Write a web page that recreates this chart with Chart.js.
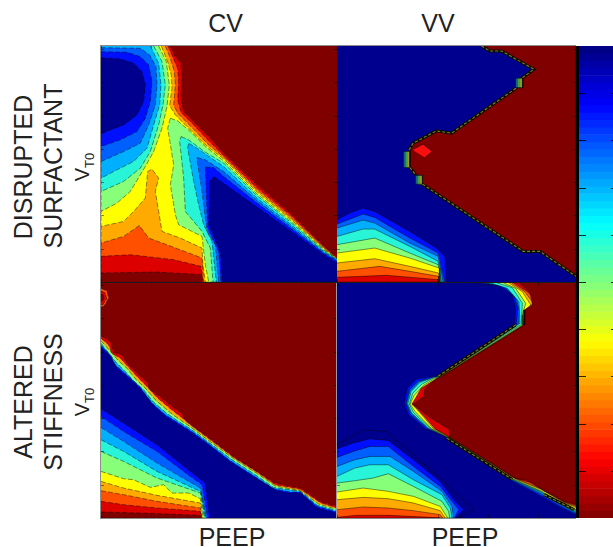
<!DOCTYPE html>
<html>
<head>
<meta charset="utf-8">
<title>CV and VV contour maps</title>
<script src="https://cdn.jsdelivr.net/npm/chart.js@4/dist/chart.umd.min.js"></script>
<style>
  html, body { margin: 0; padding: 0; background: #fff; overflow: hidden; }
  #page { position: relative; width: 613px; height: 547px; overflow: hidden; font-family: 'Liberation Sans', Arial, sans-serif; color: #222; }
  canvas { position: absolute; filter: blur(0.45px); }
  .label { position: absolute; font-size: 25px; line-height: 1; white-space: nowrap; transform: translate(-50%, -50%); }
  .side { transform: translate(-50%, -50%) rotate(-90deg); }
  .vt { font-size: 20px; }
  .vt sub { font-size: 13px; line-height: 0; }
  .rule { position: absolute; }
</style>
</head>
<body>
<div id="page">
  <canvas id="cvSurfactant" width="236" height="236" style="left:101px;top:46px"></canvas>
  <canvas id="vvSurfactant" width="239" height="236" style="left:337px;top:46px"></canvas>
  <canvas id="cvStiffness" width="236" height="235" style="left:101px;top:283px"></canvas>
  <canvas id="vvStiffness" width="239" height="235" style="left:337px;top:283px"></canvas>
  <canvas id="colorbar" width="36" height="472" style="left:577px;top:46px"></canvas>

  <div class="rule" style="left:100px;top:45px;width:476px;height:1px;background:#8c8c8c"></div>
  <div class="rule" style="left:100px;top:45px;width:1px;height:474px;background:#8c8c8c"></div>
  <div class="rule" style="left:100px;top:518px;width:476px;height:1px;background:#8c8c8c"></div>
  <div class="rule" style="left:336px;top:283px;width:1px;height:235px;background:#9a9a9a"></div>
  <div class="rule" style="left:101px;top:282px;width:475px;height:1px;background:#1a1a1a"></div>
  <div class="rule" style="left:576px;top:46px;width:3px;height:472px;background:#000"></div>

  <div class="label" style="left:225.5px;top:23px">CV</div>
  <div class="label" style="left:438px;top:23px">VV</div>
  <div class="label" style="left:232px;top:537px">PEEP</div>
  <div class="label" style="left:465px;top:537px">PEEP</div>
  <div class="label side" style="left:22.5px;top:167px">DISRUPTED</div>
  <div class="label side" style="left:52.5px;top:166px">SURFACTANT</div>
  <div class="label side vt" style="left:82px;top:167px">V<sub>T0</sub></div>
  <div class="label side" style="left:22.5px;top:402px">ALTERED</div>
  <div class="label side" style="left:52.5px;top:402px">STIFFNESS</div>
  <div class="label side vt" style="left:82px;top:402px">V<sub>T0</sub></div>
</div>

<script>
// contour fill colours, lowest band to highest
// last four: the muddy teal/green/olive steps on the VV edge and the bright red spot
const bandColors = ['#00008f', '#0010ff', '#0060ff', '#00b0ff', '#28f5d8', '#88ff78', '#ffff00', '#ffaa00', '#ff5000', '#dc0000', '#800000', '#0f6a78', '#4c9a48', '#9a9a1e', '#f81010'];

// every contour is [band, [[PEEP, VT0], ...]], painted in list order
const cvSurfactantContours = [
  [9, [[20.8,70.9],[22,68.2],[24,65.7],[24.3,61.2],[24,55.2],[24.8,51.2],[28.8,47.2],[32.8,43.2],[36.8,38.7],[46.8,29.2],[56.8,20.7],[66.8,11],[70.8,7.4],[70.8,0],[30.3,0],[30.3,2.2],[16.8,3],[0,2.7],[0,70.9]]],
  [8, [[20.1,70.9],[21.5,67.7],[23,64.2],[23.3,60.2],[23,54.7],[24,51],[28,47],[32.3,42.4],[36.8,38],[46.8,28.3],[56.8,20.1],[66.8,10.7],[70.8,7.2],[70.8,0],[30.6,0],[30,4.7],[21.8,6.7],[8.8,8.2],[0,7.7],[0,70.9]]],
  [7, [[19.3,70.9],[20.8,67.2],[22,63.2],[22.3,59.2],[21.8,53.2],[23,50.7],[27.3,46.4],[31.8,41.7],[36.8,37.5],[46.8,27.7],[56.8,19.5],[66.8,10.4],[70.8,7.1],[70.8,0],[30.8,0],[30.3,7.2],[19.8,11.2],[14.3,13.2],[11.5,17],[6.8,13.7],[0,11.7],[0,70.9]]],
  [6, [[18.1,70.9],[20,66.2],[21.1,62.2],[21.3,58.2],[20.6,53],[22.3,50.2],[26.6,45.9],[31.3,41.2],[36.8,37],[46.8,27.1],[56.8,19],[66.8,10.1],[70.8,7],[70.8,0],[31.3,0],[30.6,5.2],[30.3,10.2],[23.8,13.2],[18.3,15.2],[17.3,21.2],[16.3,27.2],[17.3,31.2],[15.3,33.9],[14,33.2],[13.3,25.2],[9.8,21.2],[6.8,18.2],[0,16.7],[0,70.9]]],
  [5, [[17.3,70.9],[19.6,66.2],[20.5,59.2],[19.8,52.7],[18.3,46.2],[15.8,39.2],[13.3,34.7],[8.8,27.2],[4.8,23.7],[0,21.2],[0,70.9]]],
  [5, [[20.8,49.2],[23,48.4],[26.8,45.2],[31.3,40.7],[36.8,36.4],[46.8,26.5],[56.8,18.5],[66.8,9.8],[70.8,7],[70.8,0],[32.3,0],[31.3,5.2],[30.3,13.7],[23.3,17.2],[22.3,20.2],[20.8,29.2],[21.8,35.2],[20,46.2],[20.8,49.2]]],
  [4, [[15.8,70.9],[18.3,66.2],[19.3,59.2],[18.6,53.2],[17.3,47.2],[14.8,39.2],[11.8,34.2],[6.8,30.2],[0,27.2],[0,70.9]]],
  [4, [[24,43.7],[26.3,42.7],[31.3,39],[36.8,35.7],[46.8,25.9],[56.8,18],[66.8,9.5],[70.8,6.9],[70.8,0],[33.6,0],[32.8,10.2],[30.3,15.2],[25.3,21.2],[24.8,31.2],[23.6,42.2],[24,43.7]]],
  [3, [[14.8,70.9],[17.3,65.7],[18,59.2],[17.6,53.2],[15.8,47.2],[13.8,40.2],[9.8,36.2],[4.8,33.7],[0,31.2],[0,70.9]]],
  [3, [[26.3,41.7],[28.8,40.2],[32.8,37.4],[36.8,34.7],[46.8,25.2],[56.8,17.4],[66.8,9.2],[70.8,6.7],[70.8,0],[34.6,0],[33.3,12.2],[30.8,17.2],[29.3,23.2],[27.8,30.2],[26,40.2],[26.3,41.7]]],
  [2, [[0,70.4],[11.8,70.2],[14.6,68.2],[16.5,64.7],[16.8,59.2],[16.3,53.2],[14.3,47.2],[11.8,41.7],[6.8,39.2],[0,36.2],[0,70.4]]],
  [2, [[28.8,37.4],[31.3,36.7],[36.8,33.2],[46.8,24.5],[56.8,16.8],[66.8,8.9],[70.8,6.5],[70.8,0],[35.3,0],[34.3,11.2],[31.8,15.2],[30.3,27.2],[28.8,36.7],[28.8,37.4]]],
  [1, [[0,69.2],[7.8,69],[11.8,67.7],[14.3,65.2],[15.3,60.2],[14.8,54.2],[13.3,49.2],[10.8,45.2],[5.8,42.7],[0,40.7],[0,69.2]]],
  [1, [[31.3,34.5],[33.8,34.4],[36.8,31.7],[46.8,23.7],[56.8,16.2],[66.8,8.6],[70.8,6.2],[70.8,0],[36,0],[35.3,9.2],[32,16.2],[31.3,34.2],[31.3,34.5]]],
  [0, [[0,67.4],[5.8,67],[9.8,65.7],[12.3,63.2],[13.3,59.2],[12.8,54.2],[10.8,50.2],[6.8,47.2],[2.8,45.7],[0,44.5],[0,67.4]]],
  [0, [[33.8,31.7],[36.8,29.7],[46.8,22.5],[56.8,15.4],[66.8,8.2],[70.8,5.7],[70.8,0],[36.4,0],[35.8,9.2],[32.3,17.2],[32.6,30.2],[33.8,31.7]]]
];

const vvSurfactantContours = [
  [1, [[0,18.7],[3.8,20.7],[7.8,22.2],[11.3,21.2],[21.8,15.2],[29.8,10.2],[32.3,7.7],[32.8,0],[0,0]]],
  [2, [[0,17.4],[7.8,20.4],[11.3,19.4],[21.8,13.2],[30.3,8.7],[32.3,0],[0,0]]],
  [3, [[0,16.2],[7.8,18.6],[11.3,17.7],[21.8,11.7],[30.3,7.7],[31.8,0],[0,0]]],
  [4, [[0,13.7],[7.8,15.9],[11.3,15.9],[21.8,10.7],[30.3,6.2],[31.3,0],[0,0]]],
  [5, [[0,11.2],[11.3,13.2],[21.8,8.7],[30.3,5.2],[31.1,0],[0,0]]],
  [6, [[0,8.7],[11.3,10.2],[21.8,7.2],[30.6,4.2],[30.8,0],[0,0]]],
  [7, [[0,5.7],[11.3,7],[21.8,4.7],[30.4,2.7],[30.6,0],[0,0]]],
  [8, [[0,3.2],[12.8,4.7],[21.8,3.2],[30.4,1.7],[30.5,0],[0,0]]],
  [9, [[0,1.4],[14.8,2],[30.4,0.7],[30.4,0],[0,0]]],
  [10, [[43.3,70.9],[45.8,69.4],[49.3,69.4],[59,63.9],[55.6,61.4],[55.6,58.4],[53.6,58.2],[34.3,44.7],[29.8,45.4],[22.8,41.7],[21.6,39.7],[21.8,34.4],[23.6,32.2],[25.6,32],[25.6,29.4],[55.8,9.2],[60.8,9.2],[71.6,1.7],[71.6,70.9]]],
  [14, [[22.6,39.7],[25.8,41.4],[28.5,39.2],[26.3,37.4]]],
  [11, [[53.6,61.2],[55.6,61.2],[55.6,58.4],[53.6,58.4]]],
  [12, [[54.2,61.2],[55.6,61.2],[55.6,58.4],[54.2,58.4]]],
  [13, [[54.9,61.2],[55.6,61.2],[55.6,58.4],[54.9,58.4]]],
  [11, [[20,39.2],[21.8,39.2],[21.8,34.4],[20,34.4]]],
  [12, [[20.6,39.2],[21.8,39.2],[21.8,34.4],[20.6,34.4]]],
  [13, [[21.2,39.2],[21.8,39.2],[21.8,34.4],[21.2,34.4]]],
  [11, [[23.6,32],[25.6,32],[25.6,29.4],[23.6,29.4]]],
  [12, [[24.2,32],[25.6,32],[25.6,29.4],[24.2,29.4]]],
  [13, [[24.9,32],[25.6,32],[25.6,29.4],[24.9,29.4]]]
];
const vvSurfactantRidges = [
  [[43.3,70.9],[45.8,69.4],[49.3,69.4],[59,63.9],[55.6,61.4]],
  [[53.6,58.2],[34.3,44.7],[29.8,45.4],[22.8,41.7],[21.6,39.7]],
  [[21.8,34.4],[23.6,32.2]],
  [[25.6,29.4],[55.8,9.2],[60.8,9.2],[71.6,1.7]]
];

const cvStiffnessContours = [
  [8, [[0,69],[1.8,68.2],[2.3,66],[0.8,63.5],[0,63.5]]],
  [9, [[0,68.2],[1.3,67.6],[1.7,65.8],[0.5,64],[0,64]]],
  [10, [[0,67.2],[0.7,67],[1,65.8],[0,65]]],
  [9, [[0,54.8],[2.8,53],[3.8,49.8],[6.3,49],[7.8,46.5],[11.3,43],[14.3,40.5],[14.3,38.5],[17.3,36.8],[21.3,33.5],[24.3,31.5],[25.8,28],[31.3,25],[39.8,18.5],[46.8,14],[52.3,10.5],[59.8,9],[65.8,5],[70.8,3.5],[70.8,0],[0,0]]],
  [7, [[0,54],[2.3,52],[3.3,49.4],[5.8,48],[7.8,45.8],[10.8,42.5],[13.8,39.5],[16.8,36.2],[20.8,32.8],[23.8,30.5],[26.8,28],[31.3,24.6],[39.8,18.2],[46.8,13.8],[52.3,10],[59.8,8.6],[65.8,4.6],[70.8,3],[70.8,0],[0,0]]],
  [5, [[0,53.3],[1.8,51.2],[5.3,47.2],[7.8,45],[10.3,41.8],[13.3,39],[16.3,35.5],[20.3,32],[23.3,29.8],[26.8,27.4],[31.3,24],[39.8,17.8],[46.8,13.4],[52.3,9.6],[59.8,8.2],[65.3,4.2],[70.8,2.6],[70.8,0],[0,0]]],
  [3, [[0,52.5],[1.8,50.2],[4.8,46.5],[7.3,44],[9.8,41.2],[12.8,38.5],[15.8,34.8],[19.8,31.4],[23,29.2],[26.8,26.8],[31.3,23.5],[39.3,17.5],[46.3,13],[51.8,9.2],[59.8,8],[65,3.8],[70.8,2.2],[70.8,0],[0,0]]],
  [1, [[0,51.8],[2.8,49],[4.3,46],[8.3,42.5],[11.8,39.2],[15.3,34.5],[19.3,31],[26.8,26.3],[31.8,22.7],[38.8,17.2],[45.8,12.7],[51.8,8.8],[56.8,7.8],[59.8,7.8],[64.8,3.5],[70.8,1.8],[70.8,0],[0,0]]],
  [0, [[0,51.2],[2.8,48.5],[4.8,45],[8.8,41.5],[11.8,38.8],[15.8,33.8],[19.3,30.5],[26.8,25.8],[31.8,22.2],[38.8,16.8],[45.8,12.3],[52.8,8.2],[56.3,7.4],[59.8,7.5],[64.8,3],[70.8,1.4],[70.8,0],[0,0]]],
  [1, [[0,32.8],[6.8,28.5],[16.8,22],[26.8,14],[31.3,10.5],[32.6,0],[0,0]]],
  [2, [[0,30.5],[6.8,26],[16.8,20],[26.8,12.5],[30.3,10],[32,0],[0,0]]],
  [3, [[0,27.2],[6.8,23],[16.8,16.5],[29.8,9],[31.6,0],[0,0]]],
  [4, [[0,23.5],[6.8,20],[16.8,14],[29.8,8],[31.3,0],[0,0]]],
  [5, [[0,20],[6.8,17],[16.8,12],[29.8,7.5],[31,0],[0,0]]],
  [6, [[0,14],[6.8,11.8],[9.8,11.5],[14.8,9.2],[18.8,10],[21.3,7.5],[26.3,7.5],[29.8,5.8],[30.6,0],[0,0]]],
  [7, [[0,11],[6.8,9],[16.8,6.8],[29.8,4.5],[30.3,0],[0,0]]],
  [8, [[0,8.2],[6.8,7],[16.8,5],[29.8,3],[30.1,0],[0,0]]],
  [9, [[0,5],[6.8,4],[16.8,3],[29.8,2],[30,0],[0,0]]],
  [10, [[0,1.8],[11.8,1.5],[29.8,0.8],[29.8,0],[0,0]]]
];

const vvStiffnessContours = [
  [1, [[40.8,70.6],[47.8,70],[52.3,67],[53.3,63],[53,58],[29.8,42.7],[27.8,42.5],[23.8,41.8],[21,39],[20,34.5],[21.3,31],[26.3,26.8],[31.8,24.8],[32.3,24.2],[51.8,11.2],[59.8,7],[66.8,3],[71.3,0.8],[71.3,70.6]]],
  [2, [[42.8,70.6],[48.8,70],[52.8,67],[54,63],[53.6,58],[30,42.6],[28.3,42.2],[24.3,41.2],[21.6,38.5],[20.6,34.5],[21.8,31.2],[26.8,27],[32.3,24.5],[32.6,24.2],[52,11.4],[60.3,7.2],[67.3,3.2],[71.3,1.2],[71.3,70.6]]],
  [3, [[44.3,70.6],[49.8,69.6],[53.6,66],[54.4,62],[54.1,58],[30,42.5],[28.6,42.2],[24.6,41],[21.8,38.2],[20.8,34.4],[22.1,31.4],[27,27],[32.6,24.4],[32.8,24.2],[52.2,11.5],[60.6,7.5],[67.6,3.4],[71.3,1.5],[71.3,70.6]]],
  [4, [[45.8,70.6],[50.8,69],[54.3,65],[54.6,58.5],[30.1,42.4],[28.8,42.2],[24.8,40.8],[22.1,38],[21.1,34.3],[22.3,31.5],[27.3,27],[32.8,24.3],[33,24.2],[52.3,11.6],[60.8,7.8],[67.8,3.5],[71.3,1.8],[71.3,70.6]]],
  [5, [[47.8,70.6],[52.3,69.2],[55.3,64.5],[55,58.2],[30.1,42.3],[29,42.2],[25.3,40.2],[22.6,37.5],[21.6,34.2],[22.8,31.7],[27.8,27],[33,24.3],[52.4,11.7],[60.8,8],[67.8,3.8],[71.3,2.2],[71.3,70.6]]],
  [6, [[49.8,70.6],[53.3,69],[56.3,64.5],[55.3,61],[55.3,58],[30.2,42.2],[29.3,42],[25.8,39.8],[23,36.8],[21.8,34.2],[23.3,32],[28.3,26.8],[33.3,24.2],[52.6,11.8],[60.8,8.2],[67.8,4],[71.3,2.5],[71.3,70.6]]],
  [7, [[51.3,70.6],[55.3,68],[57.8,64],[55.8,62],[55.6,58],[30.2,42.1],[29.6,41.9],[25.8,39.2],[23.6,36],[22.3,34.2],[24,32.5],[28.8,26.8],[33.5,24.2],[53,11.9],[60.8,8.6],[67.8,4.5],[71.3,3.2],[71.3,70.6]]],
  [8, [[52.1,70.6],[56,68],[58.6,64.5],[56,62.5],[55.8,58],[30.3,42],[29.8,41.8],[25.9,39],[24.8,36.5],[22.4,34.2],[25.8,31.2],[29.3,26.8],[33.5,24.3],[53.1,11.9],[60.8,8.8],[67.8,4.7],[71.3,3.5],[71.3,70.6]]],
  [9, [[52.8,70.6],[56.8,68],[59.3,65.5],[59.3,63.5],[56,62.5],[55.8,58],[30.3,41.9],[29.8,41.8],[25.1,39],[22.5,34.4],[29.3,26.8],[33.6,24.3],[53.3,11.9],[58.3,10.5],[61.8,8.2],[67.8,4.8],[71.3,3.8],[71.3,70.6]]],
  [10, [[54.3,70.6],[57.6,67.8],[58.3,64],[56,62.5],[56,58],[30.3,41.9],[29.8,41.8],[26.3,39],[25.8,36.5],[22.8,34.2],[27.3,30.5],[33.6,26.5],[33.6,24.3],[53.3,11.9],[56.3,11.5],[61.3,8.5],[67.8,5],[71.3,4.2],[71.3,70.6]]],
  [0, [[0,22],[7.8,26.5],[14.8,26],[30.8,12],[40.8,2.5],[36.8,0.5],[36.8,0],[0,0]]],
  [1, [[0,20.8],[4.8,22.5],[9.8,23.8],[15.3,23.3],[22.8,17.5],[30.8,11],[35.3,5],[37.8,2.5],[35.3,0],[0,0]]],
  [2, [[0,18.2],[4.8,20],[9.8,21.5],[15.3,21.5],[22.8,15.5],[30.8,9.5],[34.3,5],[36.3,2.5],[35,0],[0,0]]],
  [3, [[0,15.5],[5.3,17.5],[9.8,18.5],[15.8,18.5],[22.8,14],[31.3,8],[34.3,3.5],[34.8,0],[0,0]]],
  [4, [[0,12.5],[5.3,15],[9.8,16],[15.3,16],[22.8,11.5],[31.3,7],[33.8,3],[34.3,0],[0,0]]],
  [5, [[0,10.5],[5.3,11.2],[10.8,12],[15.3,13.3],[22.8,9.5],[31.3,5],[33.3,2],[33.6,0],[0,0]]],
  [6, [[0,7.8],[7.8,9],[15.3,8],[22.8,6.5],[30.8,3.5],[33,0],[0,0]]],
  [7, [[0,5.5],[7.8,6.2],[15.3,5.8],[22.8,4.5],[30.8,2.2],[32.3,0],[0,0]]],
  [8, [[0,2.5],[7.8,3.3],[15.3,3],[22.8,2.2],[30.8,1],[31.6,0],[0,0]]],
  [9, [[0,0.2],[5.8,0.8],[15.3,0.8],[27.8,0.2],[30.8,0],[0,0]]]
];
const vvStiffnessRidges = [
  [[53.3,58],[30,42.5]],
  [[32.8,24],[52.3,11.6]],
  [[61.8,7],[70.8,2.5]]
];

const colorbarLevels = [1,2,3,4,5,6,7,8,9,10,11,12,13,14,15,16,17,18,19,20,21,22,23,24,25,26,27,28,29,30,31,32,33,34,35,36,37,38,39,40,41,42,43,44,45,46,47,48,49,50,51,52,53,54,55,56,57,58,59,60,61,62,63,64];
const colorbarTicks = [6.4, 12.8, 19.2, 25.6, 32, 38.4, 44.8, 51.2, 57.6];

function jet(level) {
  const t = (level - 0.5) / 64;
  const ch = c => Math.round(255 * Math.max(0, Math.min(1, 1.5 - Math.abs(4 * t - c))));
  return `rgb(${ch(3)},${ch(2)},${ch(1)})`;
}

// MATLAB style ticks, pointing into the plot on both sides
const innerTicks = {
  id: 'innerTicks',
  afterDraw(chart, args, opts) {
    const { ctx, chartArea: a, scales } = chart;
    ctx.save();
    ctx.strokeStyle = opts.color;
    ctx.lineWidth = 1;
    ctx.beginPath();
    if (opts.xLen) {
      scales.x.ticks.forEach(t => {
        const px = Math.round(scales.x.getPixelForValue(t.value)) + 0.5;
        ctx.moveTo(px, a.top); ctx.lineTo(px, a.top + opts.xLen);
        ctx.moveTo(px, a.bottom); ctx.lineTo(px, a.bottom - opts.xLen);
      });
    }
    scales.y.ticks.forEach(t => {
      const py = Math.round(scales.y.getPixelForValue(t.value)) + 0.5;
      ctx.moveTo(a.left, py); ctx.lineTo(a.left + opts.yLen, py);
      ctx.moveTo(a.right, py); ctx.lineTo(a.right - opts.rightLen, py);
    });
    ctx.stroke();
    ctx.restore();
  }
};

function toPoints(list) {
  return list.map(p => ({ x: p[0], y: p[1] }));
}

function makePanel(id, background, contours, ridges, xMax, yMax, dash) {
  const canvas = document.getElementById(id);
  canvas.style.background = bandColors[background];
  const n = contours.length;
  const datasets = contours.map((c, i) => ({
    data: toPoints(c[1]),
    showLine: true,
    fill: 'shape',
    backgroundColor: bandColors[c[0]],
    borderColor: 'rgba(0,0,0,0.55)',
    borderWidth: 0.8,
    borderDash: dash,
    pointRadius: 0,
    order: n - i
  }));
  // dark speckled edge where the surface jumps straight to the top band
  ridges.forEach(r => {
    datasets.push({ data: toPoints(r), showLine: true, borderColor: '#0a0a00', borderWidth: 3, pointRadius: 0, order: -1 });
    datasets.push({ data: toPoints(r), showLine: true, borderColor: '#7a8420', borderWidth: 1.1, borderDash: [3, 2], pointRadius: 0, order: -2 });
  });
  new Chart(canvas, {
    type: 'scatter',
    data: { datasets },
    plugins: [innerTicks],
    options: {
      responsive: false,
      animation: false,
      devicePixelRatio: 1,
      layout: { padding: 0 },
      plugins: {
        legend: { display: false },
        tooltip: { enabled: false },
        innerTicks: { color: 'rgba(0,0,0,0.45)', xLen: 3, yLen: 3, rightLen: 3 }
      },
      scales: {
        x: { display: false, min: 0, max: xMax, ticks: { stepSize: 15, includeBounds: false } },
        y: { display: false, min: 0, max: yMax, ticks: { stepSize: 10, includeBounds: false } }
      }
    }
  });
}

makePanel('cvSurfactant', 10, cvSurfactantContours, [], 70.8, 70.9, [5, 2]);
makePanel('vvSurfactant', 0, vvSurfactantContours, vvSurfactantRidges, 71.6, 70.9, []);
makePanel('cvStiffness', 10, cvStiffnessContours, [], 70.8, 70.6, [5, 2]);
makePanel('vvStiffness', 0, vvStiffnessContours, vvStiffnessRidges, 71.3, 70.6, []);

new Chart(document.getElementById('colorbar'), {
  type: 'bar',
  data: {
    labels: [''],
    datasets: colorbarLevels.map(l => ({
      data: [[l - 1, l]],
      backgroundColor: jet(l),
      barPercentage: 1,
      categoryPercentage: 1,
      grouped: false
    }))
  },
  plugins: [innerTicks],
  options: {
    responsive: false,
    animation: false,
    devicePixelRatio: 1,
    layout: { padding: 0 },
    plugins: {
      legend: { display: false },
      tooltip: { enabled: false },
      innerTicks: { color: 'rgba(0,0,0,0.8)', xLen: 0, yLen: 9, rightLen: 2 }
    },
    scales: {
      x: { display: false },
      y: {
        display: false,
        reverse: true,
        min: 0,
        max: 64,
        afterBuildTicks: s => { s.ticks = colorbarTicks.map(v => ({ value: v })); }
      }
    }
  }
});
</script>
</body>
</html>
